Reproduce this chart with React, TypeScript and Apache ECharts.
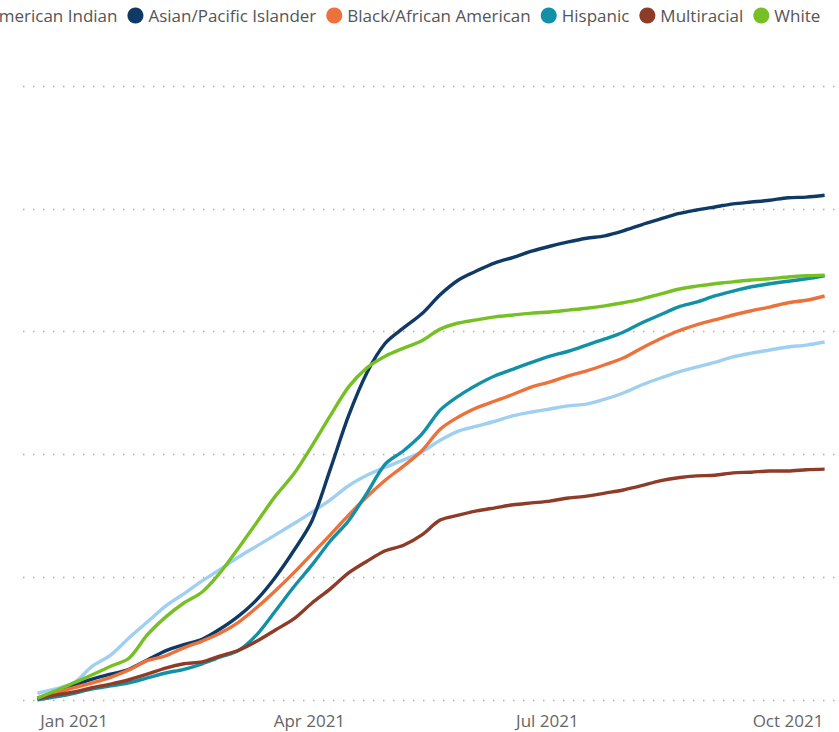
import React, { useEffect, useRef } from "react";
import * as echarts from "echarts";

// Weekly dates, starting 2020-12-18
const startDate = "2020-12-18";
const weekCount = 44;

const seriesNames = [
  "American Indian",
  "Asian/Pacific Islander",
  "Black/African American",
  "Hispanic",
  "Multiracial",
  "White",
];

const seriesColors = ["#9FCFF1", "#0F3A66", "#EC713B", "#1290A8", "#8E3B28", "#76C025"];

const americanIndian = [
  1.1, 1.8, 2.8, 5.5, 7.3, 10.1, 12.7, 15.3, 17.3, 19.4, 21.3, 23.3, 25.1, 26.9, 28.7, 30.6,
  32.6, 34.9, 36.6, 37.9, 39.1, 40.4, 42.3, 43.8, 44.6, 45.4, 46.3, 46.9, 47.4, 47.9, 48.2,
  49.0, 50.0, 51.3, 52.4, 53.4, 54.2, 55.0, 55.9, 56.5, 57.0, 57.5, 57.8, 58.3,
];
const asianPacific = [
  0.3, 1.3, 2.4, 3.4, 4.2, 5.0, 6.5, 8.0, 9.0, 9.9, 11.6, 13.7, 16.4, 20.0, 24.3, 29.2, 37.6,
  46.3, 53.3, 58.1, 60.6, 62.9, 66.0, 68.4, 69.9, 71.2, 72.1, 73.1, 73.9, 74.6, 75.2, 75.6,
  76.4, 77.4, 78.3, 79.2, 79.8, 80.3, 80.8, 81.1, 81.4, 81.8, 81.9, 82.2,
];
const blackAfrican = [
  0.3, 1.1, 2.0, 2.8, 3.7, 4.9, 6.4, 7.2, 8.5, 9.6, 10.9, 12.7, 15.1, 17.8, 20.7, 23.8, 26.9,
  30.1, 33.1, 35.8, 38.1, 40.6, 44.1, 46.1, 47.6, 48.7, 49.8, 51.0, 51.8, 52.8, 53.6, 54.6,
  55.7, 57.3, 58.8, 60.1, 61.1, 61.9, 62.7, 63.4, 64.0, 64.7, 65.1, 65.8,
];
const hispanic = [
  0.0, 0.5, 1.1, 1.8, 2.3, 2.8, 3.6, 4.4, 5.0, 5.9, 7.0, 8.1, 10.7, 14.5, 18.4, 22.0, 25.9,
  29.2, 33.7, 38.4, 40.6, 43.3, 47.2, 49.5, 51.3, 52.8, 53.9, 55.0, 56.0, 56.8, 57.8, 58.8,
  59.9, 61.4, 62.7, 64.0, 64.8, 65.8, 66.6, 67.3, 67.8, 68.2, 68.6, 69.1,
];
const multiracial = [
  0.2, 0.8, 1.3, 2.0, 2.6, 3.3, 4.2, 5.2, 5.9, 6.2, 7.2, 8.1, 9.6, 11.4, 13.2, 15.8, 18.1,
  20.7, 22.6, 24.3, 25.2, 26.9, 29.3, 30.1, 30.8, 31.3, 31.8, 32.1, 32.4, 32.9, 33.2, 33.7,
  34.2, 34.9, 35.7, 36.2, 36.5, 36.6, 37.0, 37.1, 37.3, 37.3, 37.5, 37.6,
];
const white = [
  0.3, 1.5, 2.8, 4.1, 5.5, 6.8, 10.6, 13.5, 15.8, 17.6, 20.8, 24.8, 29.0, 33.2, 36.8, 41.4,
  46.3, 51.0, 54.1, 56.0, 57.3, 58.5, 60.4, 61.4, 61.9, 62.4, 62.7, 63.0, 63.2, 63.5, 63.8,
  64.2, 64.7, 65.3, 66.1, 66.9, 67.4, 67.8, 68.1, 68.4, 68.6, 68.9, 69.1, 69.2,
];

const seriesValues = [americanIndian, asianPacific, blackAfrican, hispanic, multiracial, white];

const xTickDates = ["2021-01-01", "2021-04-01", "2021-07-01", "2021-10-01"];
const xTickLabels = ["Jan 2021", "Apr 2021", "Jul 2021", "Oct 2021"];

const yTicks = [0, 20, 40, 60, 80, 100];

const DAY = 86400000;
const SHIFT = 40; // part of the chart cut off on the left

function ts(d: string) {
  return Date.UTC(+d.slice(0, 4), +d.slice(5, 7) - 1, +d.slice(8, 10));
}

export default function App() {
  const ref = useRef<HTMLDivElement>(null);

  useEffect(() => {
    if (!ref.current) return;
    const chart = echarts.init(ref.current, undefined, { renderer: "svg" });
    const start = ts(startDate);
    const dates = Array.from({ length: weekCount }, (_, i) => start + i * 7 * DAY);
    const tickTs = xTickDates.map(ts);
    const font = "'Open Sans', 'Noto Sans', sans-serif";

    chart.setOption({
      animation: false,
      backgroundColor: "#ffffff",
      textStyle: { fontFamily: font },
      legend: {
        top: 2,
        left: 2,
        icon: "circle",
        itemWidth: 16,
        itemHeight: 16,
        itemGap: 10,
        textStyle: { color: "#555555", fontSize: 17, fontFamily: font },
        data: seriesNames,
      },
      grid: { left: 23 + SHIFT, right: 0, top: 86, bottom: 32, containLabel: false },
      xAxis: {
        type: "value",
        min: ts("2020-12-12") + DAY / 2,
        max: ts("2021-10-20") + DAY / 2,
        axisLine: { show: false },
        axisTick: { show: false },
        splitLine: { show: false },
        axisLabel: {
          customValues: tickTs,
          color: "#666666",
          fontSize: 17,
          fontFamily: font,
          margin: 12,
          showMinLabel: true,
          showMaxLabel: true,
          formatter: (v: number) => {
            const i = tickTs.indexOf(v);
            return i >= 0 ? xTickLabels[i] : "";
          },
        },
      },
      yAxis: {
        type: "value",
        min: yTicks[0],
        max: yTicks[yTicks.length - 1],
        interval: 20,
        axisLine: { show: false },
        axisTick: { show: false },
        axisLabel: { show: false },
        splitLine: {
          show: true,
          lineStyle: { color: "#b0b0b0", width: 1.3, type: [1.5, 8.5] },
        },
      },
      series: seriesNames.map((name, i) => ({
        name,
        type: "line",
        data: dates.map((d, j) => [d, seriesValues[i][j]]),
        showSymbol: false,
        symbol: "circle",
        smooth: 0.3,
        lineStyle: { width: 3.4, color: seriesColors[i] },
        itemStyle: { color: seriesColors[i] },
        z: i === 5 ? 3 : 2,
      })),
    });

    return () => chart.dispose();
  }, []);

  return (
    <div
      ref={ref}
      style={{
        position: "fixed",
        left: -SHIFT,
        top: 0,
        width: 839 + SHIFT,
        height: 732,
      }}
    />
  );
}
